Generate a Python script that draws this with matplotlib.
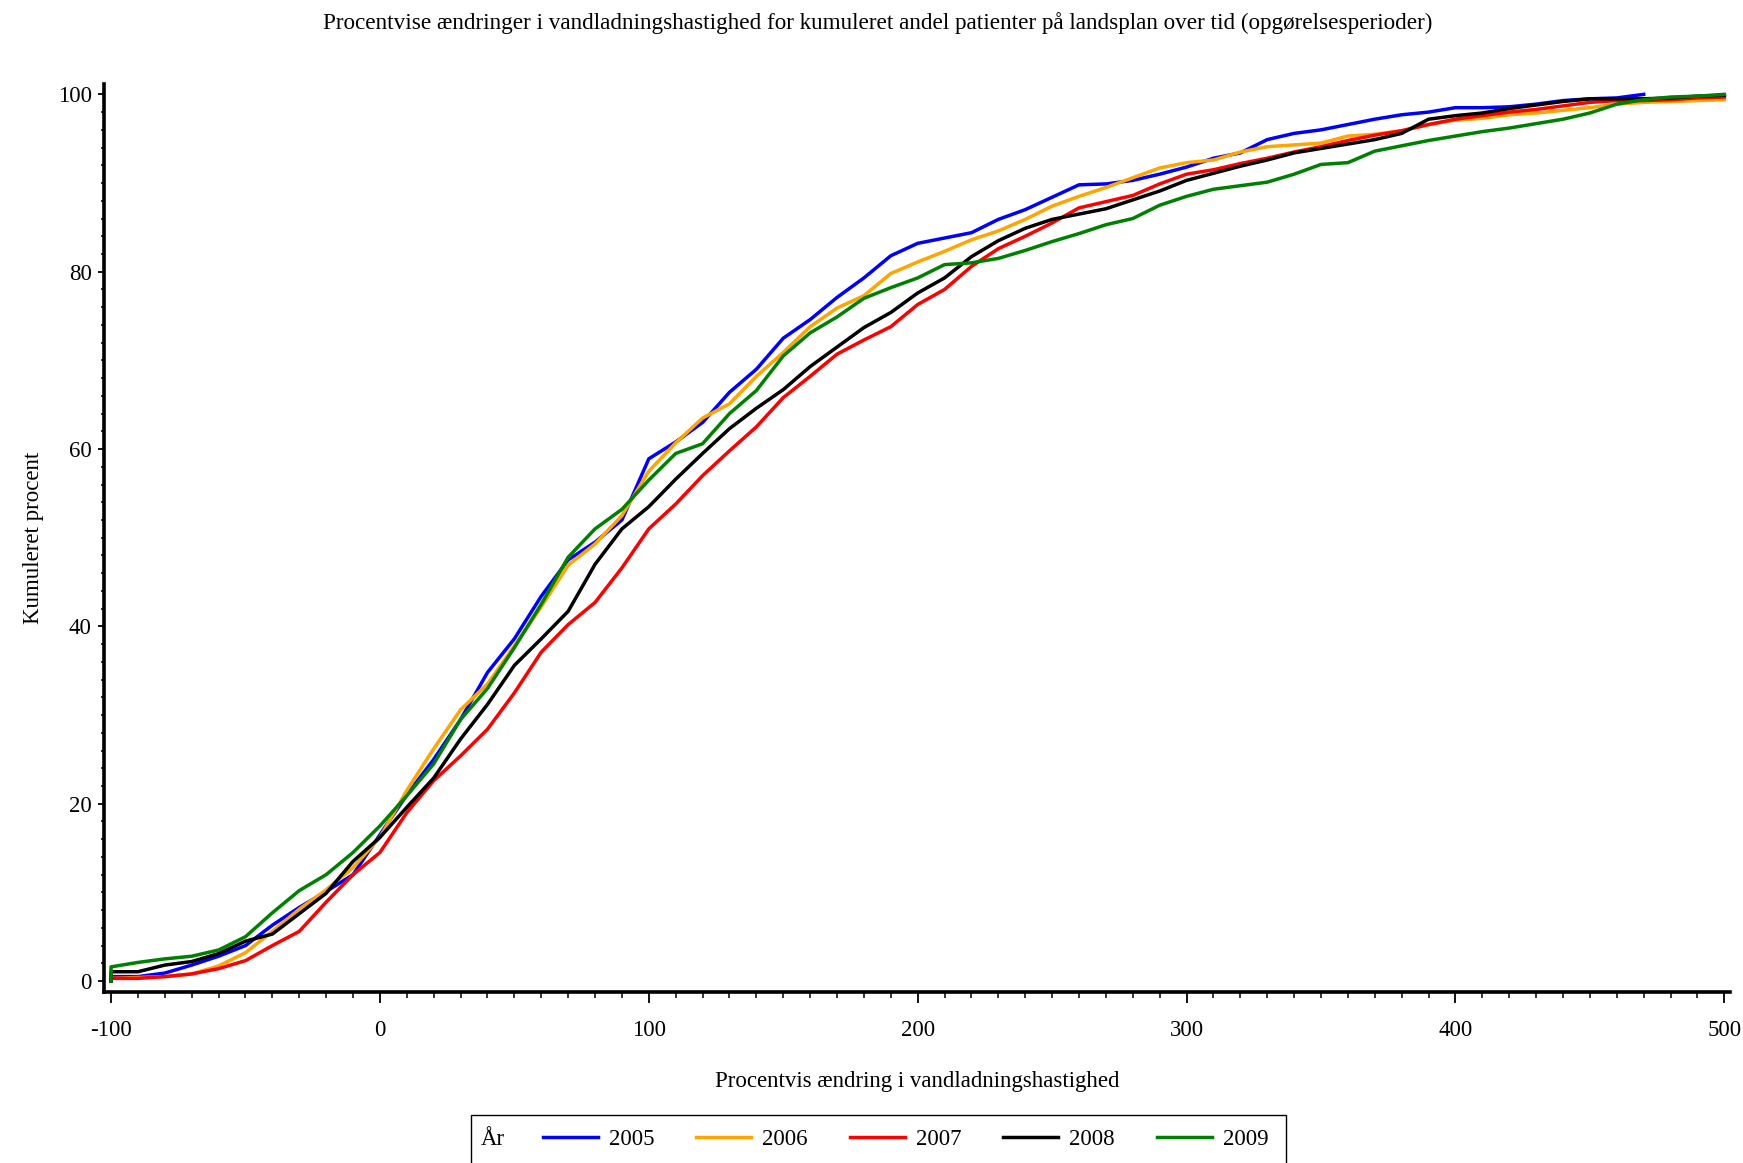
import numpy as np
import matplotlib
matplotlib.use('Agg')
import matplotlib.pyplot as plt
from matplotlib.patches import Rectangle

plt.rcParams['font.family'] = ['Liberation Serif', 'DejaVu Serif']
plt.rcParams['axes.unicode_minus'] = False

# x positions where the curves were read (percent change)
pct_change = np.arange(-100, 501, 10)

years = ['2005', '2006', '2007', '2008', '2009']
colors = ['#0000FF', '#FFA500', '#FF0000', '#000000', '#008000']

# cumulative percent per year at the x positions above
cum_2005 = [0.5, 0.5, 0.9, 1.8, 2.8, 4.0, 6.3, 8.3, 10.1, 12.0,
            16.5, 21.0, 25.0, 29.5, 34.8, 38.6, 43.4, 47.5, 49.5, 52.0,
            58.9, 60.8, 63.0, 66.4, 69.0, 72.5, 74.6, 77.1, 79.3, 81.8,
            83.2, 83.8, 84.4, 85.9, 87.0, 88.4, 89.8, 89.9, 90.3, 91.0,
            91.8, 92.8, 93.4, 94.9, 95.6, 96.0, 96.6, 97.2, 97.7, 98.0,
            98.5, 98.5, 98.6, 98.9, 99.3, 99.5, 99.6, 100.0, np.nan, np.nan, np.nan]
cum_2006 = [0.3, 0.4, 0.5, 0.8, 1.7, 3.2, 5.6, 8.1, 10.3, 12.8,
            16.2, 21.5, 26.2, 30.6, 33.5, 37.8, 42.2, 46.9, 49.3, 52.5,
            57.5, 60.7, 63.5, 65.1, 68.2, 70.9, 73.8, 75.9, 77.3, 79.8,
            81.1, 82.3, 83.6, 84.6, 85.9, 87.4, 88.5, 89.5, 90.6, 91.7,
            92.3, 92.6, 93.5, 94.1, 94.3, 94.5, 95.3, 95.5, 95.9, 96.6,
            97.1, 97.3, 97.7, 97.9, 98.2, 98.5, 98.9, 99.1, 99.2, 99.3, 99.4]
cum_2007 = [0.3, 0.3, 0.5, 0.8, 1.4, 2.3, 4.0, 5.6, 8.9, 12.0,
            14.5, 19.0, 22.6, 25.4, 28.4, 32.5, 37.1, 40.2, 42.7, 46.6,
            51.0, 53.8, 57.0, 59.8, 62.5, 65.8, 68.2, 70.7, 72.3, 73.8,
            76.3, 78.0, 80.6, 82.6, 84.0, 85.5, 87.2, 87.9, 88.6, 89.9,
            91.0, 91.5, 92.2, 92.8, 93.5, 94.1, 94.8, 95.4, 95.9, 96.6,
            97.2, 97.6, 98.0, 98.3, 98.7, 99.1, 99.3, 99.3, 99.4, 99.6, 99.7]
cum_2008 = [1.05, 1.05, 1.8, 2.2, 3.1, 4.5, 5.3, 7.6, 9.9, 13.5,
            16.2, 19.6, 22.9, 27.3, 31.2, 35.6, 38.6, 41.7, 47.0, 51.0,
            53.5, 56.6, 59.5, 62.3, 64.6, 66.7, 69.3, 71.5, 73.7, 75.4,
            77.6, 79.3, 81.7, 83.5, 84.9, 85.9, 86.5, 87.1, 88.1, 89.1,
            90.3, 91.1, 91.9, 92.6, 93.4, 93.9, 94.4, 94.9, 95.6, 97.2,
            97.6, 97.9, 98.4, 98.8, 99.2, 99.5, 99.5, 99.5, 99.6, 99.8, 99.9]
cum_2009 = [1.6, 2.1, 2.5, 2.8, 3.5, 5.0, 7.7, 10.2, 12.0, 14.5,
            17.5, 20.9, 24.5, 29.5, 33.0, 37.6, 42.5, 47.8, 51.0, 53.2,
            56.5, 59.5, 60.6, 64.0, 66.6, 70.5, 73.1, 74.9, 77.0, 78.2,
            79.3, 80.8, 81.0, 81.5, 82.4, 83.4, 84.3, 85.3, 86.0, 87.5,
            88.5, 89.3, 89.7, 90.1, 91.0, 92.1, 92.3, 93.6, 94.2, 94.8,
            95.3, 95.8, 96.2, 96.7, 97.2, 97.9, 98.9, 99.4, 99.7, 99.8, 100.0]

series = [cum_2005, cum_2006, cum_2007, cum_2008, cum_2009]

fig = plt.figure(figsize=(17.43, 11.63), dpi=100)
ax = fig.add_axes([0.0597, 0.147, 0.933, 0.781])

handles = []
for vals, col in zip(series, colors):
    # curves start from zero at -100
    xs = np.concatenate([[-100], pct_change])
    ys = np.concatenate([[0], vals])
    h, = ax.plot(xs, ys, color=col, linewidth=2.5)
    handles.append(h)

ax.set_xlim(-102.6, 502.2)
ax.set_ylim(-1.24, 101.2)
ax.set_xticks(np.arange(-100, 501, 100))
ax.set_xticks(np.arange(-100, 501, 10), minor=True)
ax.set_yticks(np.arange(0, 101, 20))
ax.set_yticks(np.arange(0, 101, 2), minor=True)

for side in ['top', 'right']:
    ax.spines[side].set_visible(False)
for side in ['left', 'bottom']:
    ax.spines[side].set_linewidth(2.6)

ax.tick_params(axis='x', which='major', length=8, width=1.3, pad=12, labelsize=16.5)
ax.tick_params(axis='x', which='minor', length=4, width=1.1)
ax.tick_params(axis='y', which='major', length=4, width=1.3, pad=5, labelsize=16.5)
ax.tick_params(axis='y', which='minor', length=2.5, width=1.1)

ax.set_xlabel('Procentvis ændring i vandladningshastighed', fontsize=16.5, labelpad=22)
ax.set_ylabel('Kumuleret procent', fontsize=16.5, labelpad=10)
fig.text(0.5035, 0.980,
         'Procentvise ændringer i vandladningshastighed for kumuleret andel patienter på landsplan over tid (opgørelsesperioder)',
         ha='center', va='center', fontsize=16.7)

# legend row with a box that runs past the bottom edge
fig.legend(handles, years, ncol=5, loc='center', bbox_to_anchor=(0.5195, 0.0198),
           frameon=False, fontsize=16.5, handlelength=2.4, handletextpad=0.48,
           columnspacing=1.83)
fig.text(0.276, 0.0198, 'År', ha='left', va='center', fontsize=16.5)
fig.add_artist(Rectangle((471 / 1743, -0.05), (1286 - 471) / 1743, 0.05 + (1163 - 1115) / 1163,
                         transform=fig.transFigure, fill=False, edgecolor='black',
                         linewidth=1.0, clip_on=False))

fig.savefig('out.png', dpi=100)
